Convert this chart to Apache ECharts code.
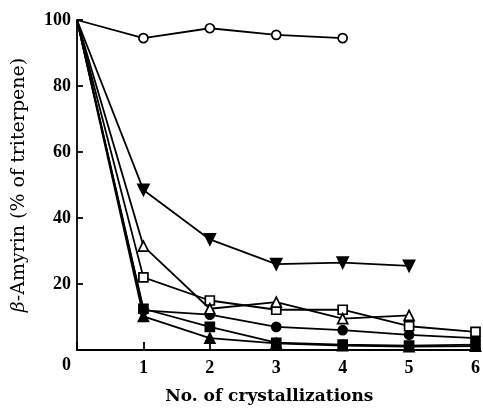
<!DOCTYPE html>
<html><head><meta charset="utf-8">
<script src="https://cdn.jsdelivr.net/npm/echarts@6/dist/echarts.min.js"></script>
<style>html,body{margin:0;padding:0;background:#fff}#c{width:483px;height:410px}</style>
</head><body><div id="c"></div>
<script>
const crystallizations = [0, 1, 2, 3, 4, 5, 6];
const openCircle   = [100, 94.5, 97.5, 95.5, 94.5];
const downTriangle = [100, 48.5, 33.5, 26, 26.5, 25.5];
const openTriangle = [100, 31.5, 12.5, 14.5, 9.5, 10.5];
const openSquare   = [100, 22, 15, 12.2, 12.2, 7.2, 5.5];
const filledCircle = [100, 12, 10.7, 7, 6, 4.6, 3.6];
const filledSquare = [100, 12.5, 7, 2.2, 1.6, 1.3, 1.6];
const filledTriangle = [100, 10.2, 3.6, 2, 1.3, 1.0, 1.2];
const yTicks = [0, 20, 40, 60, 80, 100];

const serif = 'DejaVu Serif';
const tickFont = 'Liberation Serif';
function mk(vals, symbol, size, filled, rotate) {
  return {
    type: 'line',
    data: vals.map((v, i) => i === 0
      ? { value: [crystallizations[i], v], symbol: 'none' }
      : { value: [crystallizations[i], v] }),
    symbol: symbol,
    symbolSize: size,
    symbolRotate: rotate || 0,
    showAllSymbol: true,
    animation: false,
    lineStyle: { color: '#000', width: 1.8 },
    itemStyle: { color: filled ? '#000' : '#fff', borderColor: '#000', borderWidth: 1.7, opacity: 1 },
    emphasis: { disabled: true }
  };
}

const chart = echarts.init(document.getElementById('c'), null, { renderer: 'canvas' });
chart.setOption({
  animation: false,
  backgroundColor: '#fff',
  grid: { left: 77, right: 6, top: 20, bottom: 56, containLabel: false },
  xAxis: {
    type: 'value', min: 0, max: 6, interval: 1,
    name: 'No. of crystallizations', nameLocation: 'middle', nameGap: 38,
    nameTextStyle: { fontFamily: serif, fontWeight: 'bold', fontSize: 17, color: '#000', padding: [0, 14, 0, 0] },
    axisLine: { show: true, lineStyle: { color: '#000', width: 1.8 } },
    axisTick: { show: true, inside: true, length: 8, lineStyle: { color: '#000', width: 1.8 } },
    axisLabel: { fontFamily: tickFont, fontWeight: 'bold', fontSize: 18, color: '#000', margin: 9,
      formatter: v => v === 0 ? '' : String(v) },
    splitLine: { show: false }
  },
  yAxis: {
    type: 'value', min: 0, max: 100, interval: 20,
    name: '{b|β}-Amyrin (% of triterpene)', nameLocation: 'middle', nameGap: 48,
    nameTextStyle: { fontFamily: serif, fontSize: 19, color: '#000',
      rich: { b: { fontFamily: serif, fontStyle: 'italic', fontSize: 19, color: '#000' } } },
    axisLine: { show: true, lineStyle: { color: '#000', width: 1.8 } },
    axisTick: { show: true, inside: true, length: 6, lineStyle: { color: '#000', width: 1.8 } },
    axisLabel: { fontFamily: tickFont, fontWeight: 'bold', fontSize: 18, color: '#000', margin: 6,
      formatter: v => v === 0 ? '{z|0}' : String(v),
      rich: { z: { fontFamily: tickFont, fontWeight: 'bold', fontSize: 18, color: '#000', padding: [30, 0, 0, 0] } } },
    splitLine: { show: false }
  },
  series: [
    mk(filledTriangle, 'triangle', 10, true),
    mk(filledSquare, 'rect', 9, true),
    mk(filledCircle, 'circle', 9, true),
    mk(openSquare, 'rect', 9, false),
    mk(openTriangle, 'triangle', 10, false),
    mk(downTriangle, 'triangle', 11, true, 180),
    mk(openCircle, 'circle', 9, false)
  ]
});
</script></body></html>
